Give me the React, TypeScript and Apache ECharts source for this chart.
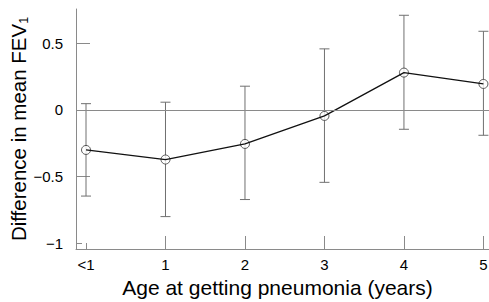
import React, { useEffect, useRef } from "react";
import * as echarts from "echarts";

const categories = ["<1", "1", "2", "3", "4", "5"];
const meanDiff = [-0.3, -0.372, -0.255, -0.045, 0.28, 0.195];
const ciLower = [-0.646, -0.8, -0.672, -0.543, -0.145, -0.19];
const ciUpper = [0.047, 0.058, 0.178, 0.458, 0.71, 0.59];
const yLabelTicks = [-1, -0.5, 0, 0.5];
const yLongTicks = [-0.5, 0.5];
const yShortTicks = [-1];
const xLongTicks = [1, 2, 3, 4, 5];
const xShortTicks = [0];

const FONT = "'Liberation Sans', Arial, sans-serif";
const AXIS_COLOR = "#8a8a8a";
const BAR_COLOR = "#707070";

export default function App() {
  const ref = useRef<HTMLDivElement>(null);
  useEffect(() => {
    if (!ref.current) return;
    const chart = echarts.init(ref.current, null, { renderer: "svg" });
    const xIdx = categories.map((_, i) => i);
    const fmtY = (v: number) => (v < 0 ? "\u2212" + Math.abs(v) : String(v));
    const option: any = {
      animation: false,
      textStyle: { fontFamily: FONT },
      grid: { left: 76, right: 0, top: 9, bottom: 53, containLabel: false, outerBoundsMode: "none" },
      xAxis: [
        {
          type: "value",
          min: -0.126,
          max: 5.07,
          axisLine: { show: true, onZero: false, lineStyle: { color: AXIS_COLOR, width: 1 } },
          axisTick: {
            show: true,
            inside: true,
            length: 13,
            customValues: xLongTicks,
            lineStyle: { color: AXIS_COLOR },
          },
          axisLabel: {
            customValues: xIdx,
            formatter: (v: number) => categories[Math.round(v)],
            fontSize: 15,
            color: "#000",
            margin: 8,
            fontFamily: FONT,
          },
          splitLine: { show: false },
          name: "Age at getting pneumonia (years)",
          nameLocation: "middle",
          nameGap: 28,
          nameMoveOverlap: false,
          nameTextStyle: { fontSize: 21, color: "#000", fontFamily: FONT, padding: [0, 10, 0, 0] },
        },
        {
          type: "value",
          min: -0.126,
          max: 5.07,
          position: "bottom",
          axisLine: { show: false, onZero: false },
          axisTick: {
            show: true,
            inside: true,
            length: 6,
            customValues: xShortTicks,
            lineStyle: { color: AXIS_COLOR },
          },
          axisLabel: { show: false },
          splitLine: { show: false },
        },
      ],
      yAxis: [
        {
          type: "value",
          min: -1.043,
          max: 0.757,
          axisLine: { show: true, onZero: false, lineStyle: { color: AXIS_COLOR, width: 1 } },
          axisTick: {
            show: true,
            inside: true,
            length: 14,
            customValues: yLongTicks,
            lineStyle: { color: AXIS_COLOR },
          },
          axisLabel: {
            customValues: yLabelTicks,
            formatter: fmtY,
            fontSize: 15,
            color: "#000",
            margin: 13,
            fontFamily: FONT,
          },
          splitLine: { show: false },
          name: "Difference in mean FEV{sub|1}",
          nameLocation: "middle",
          nameGap: 46,
          nameMoveOverlap: false,
          nameTextStyle: {
            fontSize: 20.5,
            color: "#000",
            fontFamily: FONT,
            rich: {
              sub: { fontSize: 12.5, verticalAlign: "bottom", padding: [10, 0, 0, 0], fontFamily: FONT, color: "#000" },
            },
          },
        },
        {
          type: "value",
          min: -1.043,
          max: 0.757,
          position: "left",
          axisLine: { show: false, onZero: false },
          axisTick: {
            show: true,
            inside: true,
            length: 6,
            customValues: yShortTicks,
            lineStyle: { color: AXIS_COLOR },
          },
          axisLabel: { show: false },
          splitLine: { show: false },
        },
      ],
      series: [
        {
          type: "custom",
          z: 1,
          silent: true,
          data: xIdx.map((i) => [i, ciLower[i], ciUpper[i]]),
          renderItem: (params: any, api: any) => {
            const x = api.value(0);
            const lo = api.coord([x, api.value(1)]);
            const hi = api.coord([x, api.value(2)]);
            const cap = 5;
            const style = { stroke: BAR_COLOR, lineWidth: 1 };
            return {
              type: "group",
              children: [
                { type: "line", shape: { x1: lo[0], y1: lo[1], x2: hi[0], y2: hi[1] }, style },
                { type: "line", shape: { x1: lo[0] - cap, y1: lo[1], x2: lo[0] + cap, y2: lo[1] }, style },
                { type: "line", shape: { x1: hi[0] - cap, y1: hi[1], x2: hi[0] + cap, y2: hi[1] }, style },
              ],
            };
          },
        },
        {
          type: "scatter",
          z: 2,
          silent: true,
          symbol: "circle",
          symbolSize: 9,
          itemStyle: { color: "#fff", borderColor: "#333", borderWidth: 1 },
          data: xIdx.map((i) => [i, meanDiff[i]]),
        },
        {
          type: "line",
          z: 3,
          silent: true,
          showSymbol: false,
          symbol: "none",
          lineStyle: { color: "#111", width: 1.3 },
          data: xIdx.map((i) => [i, meanDiff[i]]),
          markLine: {
            silent: true,
            symbol: "none",
            label: { show: false },
            lineStyle: { color: AXIS_COLOR, type: "solid", width: 1 },
            data: [{ yAxis: 0 }],
          },
        },
      ],
    };
    chart.setOption(option);
    return () => chart.dispose();
  }, []);
  return (
    <div
      ref={ref}
      style={{ position: "fixed", left: 0, top: 0, width: 489, height: 302, background: "#fff" }}
    />
  );
}
